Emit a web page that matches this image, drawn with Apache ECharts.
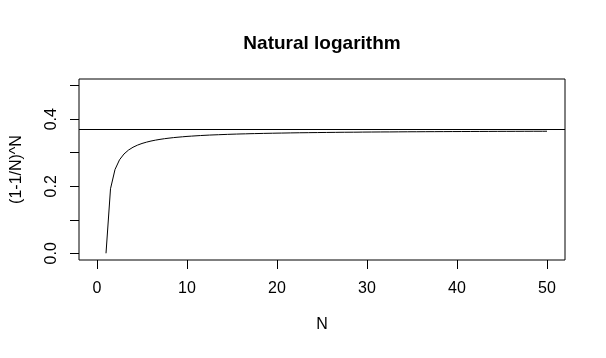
<!DOCTYPE html>
<html>
<head>
<meta charset="utf-8">
<script src="https://cdn.jsdelivr.net/npm/echarts@6/dist/echarts.min.js"></script>
<style>
html,body{margin:0;padding:0;background:#fff;}
#chart{width:606px;height:358px;}
</style>
</head>
<body>
<div id="chart"></div>
<script>
var nValues = [1,1.5,2,2.5,3,3.5,4,4.5,5,5.5,6,6.5,7,7.5,8,8.5,9,9.5,10,10.5,11,11.5,12,12.5,13,13.5,14,14.5,15,15.5,16,16.5,17,17.5,18,18.5,19,19.5,20,20.5,21,21.5,22,22.5,23,23.5,24,24.5,25,25.5,26,26.5,27,27.5,28,28.5,29,29.5,30,30.5,31,31.5,32,32.5,33,33.5,34,34.5,35,35.5,36,36.5,37,37.5,38,38.5,39,39.5,40,40.5,41,41.5,42,42.5,43,43.5,44,44.5,45,45.5,46,46.5,47,47.5,48,48.5,49,49.5,50];
var yValues = [0,0.1925,0.25,0.2789,0.2963,0.3080,0.3164,0.3227,0.3277,0.3316,0.3349,0.3376,0.3399,0.3419,0.3436,0.3451,0.3464,0.3476,0.3487,0.3496,0.3505,0.3513,0.3520,0.3527,0.3533,0.3538,0.3543,0.3548,0.3553,0.3557,0.3561,0.3564,0.3568,0.3571,0.3574,0.3577,0.3580,0.3582,0.3585,0.3587,0.3589,0.3592,0.3594,0.3596,0.3597,0.3599,0.3601,0.3602,0.3604,0.3605,0.3607,0.3608,0.3610,0.3611,0.3612,0.3613,0.3614,0.3616,0.3617,0.3618,0.3619,0.3620,0.3621,0.3621,0.3622,0.3623,0.3624,0.3625,0.3626,0.3626,0.3627,0.3628,0.3629,0.3629,0.3630,0.3630,0.3631,0.3632,0.3632,0.3633,0.3633,0.3634,0.3635,0.3635,0.3636,0.3636,0.3637,0.3637,0.3638,0.3638,0.3638,0.3639,0.3639,0.3640,0.3640,0.3641,0.3641,0.3641,0.3642];
var limitValue = 0.3679;
var xTicks = [0,10,20,30,40,50];
var yTicks = [0,0.1,0.2,0.3,0.4,0.5];
var yTickLabels = [0,0.2,0.4];
var titleText = 'Natural logarithm';
var xName = 'N';
var yName = '(1-1/N)^N';

var FONT = '"Liberation Sans", Arial, Helvetica, sans-serif';
var chart = echarts.init(document.getElementById('chart'), null, {renderer:'canvas'});
var pts = nValues.map(function(n,i){return [n, yValues[i]];});
chart.setOption({
  animation:false,
  backgroundColor:'#fff',
  title:{
    text:titleText, left:317, top:29, textAlign:'center',
    textStyle:{fontFamily:FONT, fontWeight:'bold', fontSize:19, color:'#000'}
  },
  grid:{left:79, top:79, width:486, height:181, show:true, borderColor:'#000', borderWidth:1, backgroundColor:'transparent'},
  xAxis:{
    type:'value', min:-2, max:52,
    name:xName, nameLocation:'middle', nameGap:57,
    nameTextStyle:{fontFamily:FONT, fontSize:16, color:'#000'},
    axisLine:{show:false, onZero:false},
    axisTick:{show:true, length:9, inside:false, customValues:xTicks, lineStyle:{color:'#000', width:1}},
    axisLabel:{show:true, margin:21, customValues:xTicks, fontFamily:FONT, fontSize:16, color:'#000'},
    splitLine:{show:false}
  },
  yAxis:{
    type:'value', min:-0.02, max:0.52,
    name:yName, nameLocation:'middle', nameGap:54, nameRotate:90,
    nameTextStyle:{fontFamily:FONT, fontSize:16, color:'#000'},
    axisLine:{show:false, onZero:false},
    axisTick:{show:true, length:9, inside:false, customValues:yTicks, lineStyle:{color:'#000', width:1}},
    axisLabel:{show:true, margin:19, rotate:90, customValues:yTickLabels, fontFamily:FONT, fontSize:16, color:'#000',
      formatter:function(v){return v.toFixed(1);}},
    splitLine:{show:false}
  },
  series:[{
    type:'line', data:pts, symbol:'none', smooth:false,
    lineStyle:{color:'#000', width:1},
    markLine:{
      silent:true, symbol:'none', animation:false,
      label:{show:false},
      lineStyle:{color:'#000', width:1, type:'solid'},
      data:[{yAxis:limitValue}]
    }
  }]
});
</script>
</body>
</html>
